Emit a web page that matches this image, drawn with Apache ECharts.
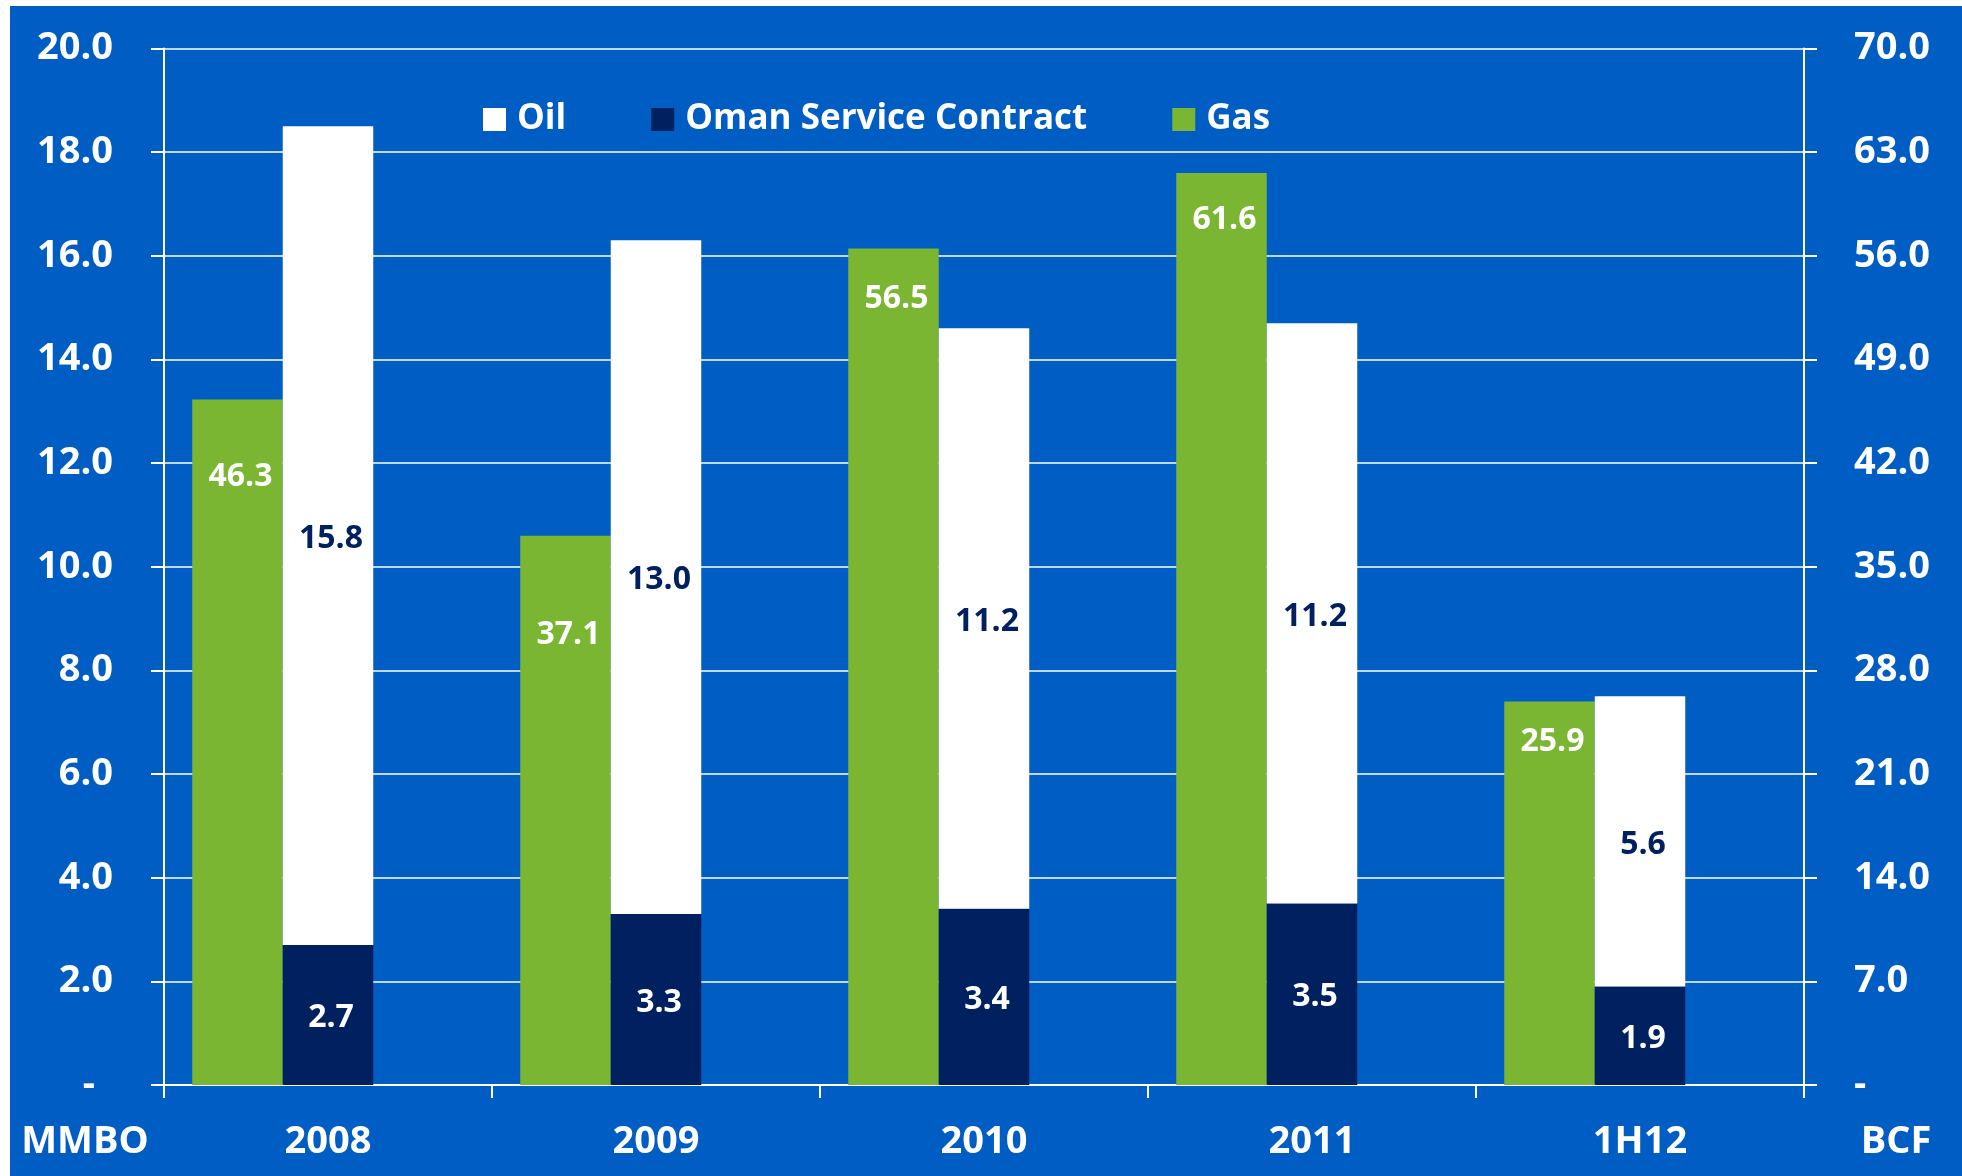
<!DOCTYPE html>
<html>
<head>
<meta charset="utf-8">
<script src="https://cdn.jsdelivr.net/npm/echarts@6/dist/echarts.min.js"></script>
<style>
  html, body { margin: 0; padding: 0; background: #ffffff; width: 1962px; height: 1176px; overflow: hidden; }
  #chart { position: absolute; left: 10px; top: 6px; width: 1952px; height: 1170px; }
</style>
</head>
<body>
<div id="chart"></div>
<script>
// ---- data ----
const categories = ['2008', '2009', '2010', '2011', '1H12'];
const oilValues = [15.8, 13.0, 11.2, 11.2, 5.6];
const omanValues = [2.7, 3.3, 3.4, 3.5, 1.9];
const gasValues = [46.3, 37.1, 56.5, 61.6, 25.9];
const leftAxis = { min: 0, max: 20, interval: 2 };   // MMBO
const rightAxis = { min: 0, max: 70, interval: 7 };  // BCF

// label placement (distance of gas label centre below bar top, px)
const gasLabelDrop = [77, 99, 50, 47, 40];

const FONT = "'Open Sans', 'Noto Sans', sans-serif";
const WHITE = '#ffffff';
const NAVY = '#002060';
const GREEN = '#7AB632';
const BG = '#005DC4';

const chart = echarts.init(document.getElementById('chart'), null, { renderer: 'canvas' });

function fmt(v) { return v === 0 ? '{z|-}' : v.toFixed(1); }

const option = {
  backgroundColor: BG,
  animation: false,
  textStyle: { fontFamily: FONT },
  grid: { left: 154, right: 158, top: 42.5, bottom: 91, containLabel: false },
  legend: {
    data: ['Oil', 'Oman Service Contract', 'Gas'],
    left: 468,
    top: 91,
    icon: 'rect',
    itemWidth: 23,
    itemHeight: 23,
    itemGap: 85,
    textStyle: { color: WHITE, fontSize: 35, fontWeight: 'bold', fontFamily: FONT, padding: [0, 0, 0, 6] }
  },
  xAxis: {
    type: 'category',
    data: categories,
    boundaryGap: true,
    axisLine: { show: true, lineStyle: { color: WHITE, width: 2 } },
    axisTick: { show: true, interval: 0, length: 13, lineStyle: { color: WHITE, width: 2 } },
    axisLabel: { color: WHITE, fontSize: 38, fontWeight: 'bold', fontFamily: FONT, margin: 57, verticalAlign: 'middle', interval: 0 },
    splitLine: { show: false }
  },
  yAxis: [
    {
      type: 'value', position: 'left',
      min: leftAxis.min, max: leftAxis.max, interval: leftAxis.interval,
      axisLine: { show: true, lineStyle: { color: WHITE, width: 2 } },
      axisTick: { show: true, length: 13, lineStyle: { color: WHITE, width: 2 } },
      splitLine: { show: true, lineStyle: { color: WHITE, width: 1.5 } },
      axisLabel: {
        color: WHITE, fontSize: 38, fontWeight: 'bold', fontFamily: FONT, margin: 51,
        formatter: fmt,
        rich: { z: { color: WHITE, fontSize: 38, fontWeight: 'bold', fontFamily: FONT, padding: [0, 18, 0, 0] } }
      }
    },
    {
      type: 'value', position: 'right',
      min: rightAxis.min, max: rightAxis.max, interval: rightAxis.interval,
      axisLine: { show: true, lineStyle: { color: WHITE, width: 2 } },
      axisTick: { show: true, length: 13, lineStyle: { color: WHITE, width: 2 } },
      splitLine: { show: false },
      axisLabel: {
        color: WHITE, fontSize: 38, fontWeight: 'bold', fontFamily: FONT, margin: 50,
        formatter: fmt,
        rich: { z: { color: WHITE, fontSize: 38, fontWeight: 'bold', fontFamily: FONT } }
      }
    }
  ],
  series: [
    {
      name: 'Gas', type: 'bar', yAxisIndex: 1,
      barWidth: 90.5, barGap: '0%',
      itemStyle: { color: GREEN },
      data: gasValues.map((v, i) => ({
        value: v,
        label: { distance: gasLabelDrop[i] }
      })),
      label: {
        show: true, position: 'insideTop', verticalAlign: 'middle', offset: [3, 0],
        color: WHITE, fontSize: 32, fontWeight: 'bold', fontFamily: FONT,
        formatter: p => p.value.toFixed(1)
      }
    },
    {
      name: 'Oman Service Contract', type: 'bar', yAxisIndex: 0, stack: 'oil',
      barWidth: 90.5, barGap: '0%',
      itemStyle: { color: NAVY },
      data: omanValues,
      label: {
        show: true, position: 'inside', offset: [3, 3],
        color: WHITE, fontSize: 32, fontWeight: 'bold', fontFamily: FONT,
        formatter: p => p.value.toFixed(1)
      }
    },
    {
      name: 'Oil', type: 'bar', yAxisIndex: 0, stack: 'oil',
      barWidth: 90.5, barGap: '0%',
      itemStyle: { color: WHITE },
      data: oilValues,
      label: {
        show: true, position: 'inside', offset: [3, 3],
        color: NAVY, fontSize: 32, fontWeight: 'bold', fontFamily: FONT,
        formatter: p => p.value.toFixed(1)
      }
    },
    {
      // empty slot series (as in the source chart) that reserves space to the right
      name: 'spacer', type: 'bar', yAxisIndex: 0, stack: 'spacer',
      barWidth: 90.5, barGap: '0%', silent: true,
      itemStyle: { color: 'rgba(0,0,0,0)' },
      data: []
    }
  ],
  graphic: [
    {
      type: 'text', x: 75, y: 1136,
      style: { text: 'MMBO', fill: WHITE, font: "bold 38px " + FONT, textAlign: 'center', textVerticalAlign: 'middle' }
    },
    {
      type: 'text', x: 1886, y: 1136,
      style: { text: 'BCF', fill: WHITE, font: "bold 38px " + FONT, textAlign: 'center', textVerticalAlign: 'middle' }
    }
  ]
};

chart.setOption(option);
</script>
</body>
</html>
